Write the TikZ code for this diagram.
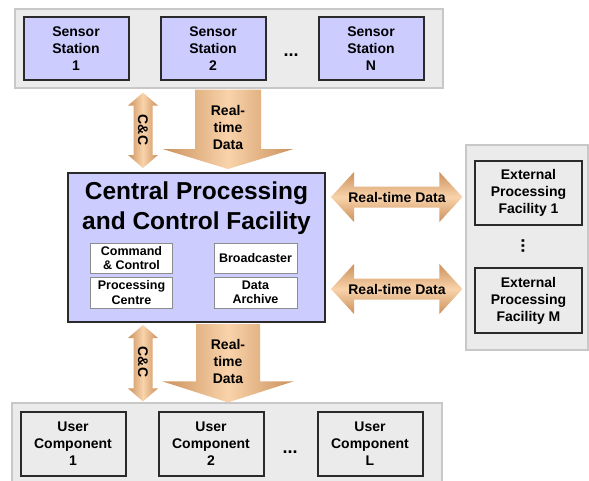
\documentclass[tikz,border=0pt]{standalone}
\usepackage{fontspec}
\setmainfont{Liberation Sans}
\usetikzlibrary{calc}
\definecolor{lav}{HTML}{CCCCFF}
\definecolor{panel}{HTML}{EBEBEB}
\definecolor{panelb}{HTML}{C8C8C8}
\definecolor{edge}{HTML}{2A2A2A}
\definecolor{innerb}{HTML}{8C8C8C}
\definecolor{arrdark}{HTML}{CB915C}
\definecolor{arrlight}{HTML}{F9D3AB}
\newcommand{\boxfont}{\fontsize{14}{17}\selectfont\bfseries}
\newcommand{\innerfont}{\fontsize{12.5}{14.5}\selectfont\bfseries}
\newcommand{\titlefont}{\fontsize{24.5}{30}\selectfont\bfseries}
% vertical double arrow: top tip, bottom tip, shaft half, head half, head length
\newcommand{\vdarrow}[5]{%
  \path[vshade] (#1) -- ($(#1)+(#4,#5)$) -- ($(#1)+(#3,#5)$) -- ($(#2)+(#3,-#5)$) -- ($(#2)+(#4,-#5)$) -- (#2)
    -- ($(#2)+(-#4,-#5)$) -- ($(#2)+(-#3,-#5)$) -- ($(#1)+(-#3,#5)$) -- ($(#1)+(-#4,#5)$) -- cycle;}
% horizontal double arrow: left tip, right tip, shaft half, head half, head length
\newcommand{\hdarrow}[5]{%
  \path[hshade] (#1) -- ($(#1)+(#5,-#4)$) -- ($(#1)+(#5,-#3)$) -- ($(#2)+(-#5,-#3)$) -- ($(#2)+(-#5,-#4)$) -- (#2)
    -- ($(#2)+(-#5,#4)$) -- ($(#2)+(-#5,#3)$) -- ($(#1)+(#5,#3)$) -- ($(#1)+(#5,#4)$) -- cycle;}
% fat down arrow: tail centre, tip, shaft half, head half, head length
\newcommand{\fatdown}[5]{%
  \path[vshade] ($(#1)+(-#3,0)$) -- ($(#1)+(#3,0)$) -- ($(#2)+(#3,-#5)$) -- ($(#2)+(#4,-#5)$) -- (#2)
    -- ($(#2)+(-#4,-#5)$) -- ($(#2)+(-#3,-#5)$) -- cycle;}
\tikzset{
  panelbox/.style={draw=panelb, fill=panel, line width=1.2pt, inner sep=0},
  stationbox/.style={draw=edge, fill=lav, line width=2pt, minimum width=105, minimum height=63,
    inner sep=0, align=center, font=\boxfont},
  userbox/.style={stationbox, fill=panel, minimum height=64},
  extbox/.style={stationbox, fill=panel, minimum width=107, minimum height=64},
  centralbox/.style={draw=edge, fill=lav, line width=2pt, minimum width=257, minimum height=149, inner sep=0},
  titletext/.style={align=center, font=\titlefont, inner sep=0},
  innerbox/.style={draw=innerb, fill=white, line width=1pt, minimum width=82, minimum height=30,
    inner sep=0, align=center, font=\innerfont},
  arrtext/.style={align=center, font=\boxfont, inner sep=0},
  dotstext/.style={font=\fontsize{18}{18}\selectfont\bfseries, inner sep=0},
  vshade/.style={left color=arrdark, right color=arrdark, middle color=arrlight},
  hshade/.style={top color=arrdark, bottom color=arrdark, middle color=arrlight},
}
\begin{document}
\begin{tikzpicture}[x=1pt,y=-1pt]
\useasboundingbox (0,0) rectangle (589,480);
\clip (0,0) rectangle (589,480);
% panels
\node[panelbox, minimum width=428, minimum height=79] (toppanel) at (229,48.5) {};
\node[panelbox, minimum width=122, minimum height=205] (extpanel) at (527,247.5) {};
\node[panelbox, minimum width=430, minimum height=84] (botpanel) at (227,445) {};
% sensor stations
\node[stationbox] (s1) at (76,48.5) {Sensor\\Station\\1};
\node[stationbox] (s2) at (213,48.5) {Sensor\\Station\\2};
\node[stationbox] (sN) at (371,48.5) {Sensor\\Station\\N};
\node[dotstext] (sdots) at (291,55) {...};
% central facility
\node[centralbox] (cpcf) at (196.5,247.5) {};
\node[titletext] (title) at (196.5,208) {Central Processing\\and Control Facility};
\node[innerbox] (cc) at (131.5,258) {Command\\\& Control};
\node[innerbox, minimum width=83] (bc) at (255.5,258) {Broadcaster};
\node[innerbox, minimum height=31] (pc) at (131.5,292.5) {Processing\\Centre};
\node[innerbox, minimum width=83, minimum height=31] (da) at (255.5,292.5) {Data\\Archive};
% external facilities
\node[extbox] (ext1) at (528.5,193) {External\\Processing\\Facility 1};
\node[dotstext, rotate=90] (edots) at (523,246) {...};
\node[extbox, minimum height=65] (extm) at (528.5,300.5) {External\\Processing\\Facility M};
% user components
\node[userbox] (u1) at (73,444) {User\\Component\\1};
\node[userbox] (u2) at (211,444) {User\\Component\\2};
\node[userbox] (uL) at (370,444) {User\\Component\\L};
\node[dotstext] (udots) at (290,452) {...};
% arrow columns / rows
\coordinate (colA) at (228,0);
\coordinate (colB) at (143,0);
\coordinate (rowA) at (0,197);
\coordinate (rowB) at (0,289);
\coordinate (rtAs) at ($(toppanel.south -| colA)+(0,1)$);
\coordinate (rtAe) at ($(cpcf.north -| colA)+(0,-3)$);
\coordinate (ccAs) at ($(toppanel.south -| colB)+(0,4)$);
\coordinate (ccAe) at ($(cpcf.north -| colB)+(0,-4)$);
\coordinate (rtBs) at ($(cpcf.south -| colA)+(0,1)$);
\coordinate (rtBe) at ($(botpanel.north -| colA)+(0,0)$);
\coordinate (ccBs) at ($(cpcf.south -| colB)+(0,2)$);
\coordinate (ccBe) at ($(botpanel.north -| colB)+(0,-1)$);
\coordinate (hAs) at ($(cpcf.east |- rowA)+(5,0)$);
\coordinate (hAe) at ($(extpanel.west |- rowA)+(-3,0)$);
\coordinate (hBs) at ($(cpcf.east |- rowB)+(5,0)$);
\coordinate (hBe) at ($(extpanel.west |- rowB)+(-3,0)$);
% arrows
\fatdown{rtAs}{rtAe}{33}{65.5}{20}
\vdarrow{ccAs}{ccAe}{9.5}{15}{13}
\fatdown{rtBs}{rtBe}{32}{65.5}{21}
\vdarrow{ccBs}{ccBe}{9.5}{15}{13}
\hdarrow{hAs}{hAe}{10.5}{25}{23}
\hdarrow{hBs}{hBe}{10.5}{25}{23}
% arrow labels
\node[arrtext] (rtAt) at (228,127) {Real-\\time\\Data};
\node[arrtext, rotate=-90] (ccAt) at (143,130) {C\&C};
\node[arrtext] (rtBt) at (228,361) {Real-\\time\\Data};
\node[arrtext, rotate=-90] (ccBt) at (143,362) {C\&C};
\node[arrtext] (hAt) at (397,197) {Real-time Data};
\node[arrtext] (hBt) at (397,289) {Real-time Data};
\end{tikzpicture}
\end{document}
